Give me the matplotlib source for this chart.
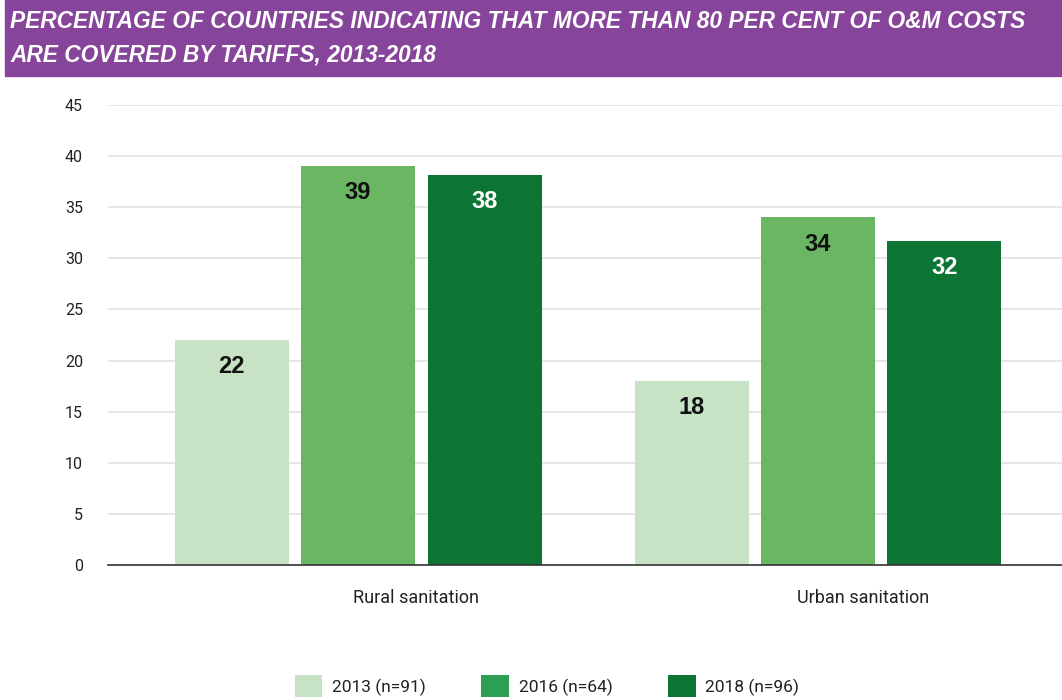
import matplotlib
matplotlib.use("Agg")
import matplotlib.pyplot as plt
from matplotlib.patches import Rectangle, Patch
import numpy as np

categories = ["Rural sanitation", "Urban sanitation"]
series_names = ["2013 (n=91)", "2016 (n=64)", "2018 (n=96)"]
values_2013 = [22, 18]
values_2016 = [39, 34]
values_2018 = [38.2, 31.7]
labels_2013 = ["22", "18"]
labels_2016 = ["39", "34"]
labels_2018 = ["38", "32"]
yticks = [0, 5, 10, 15, 20, 25, 30, 35, 40, 45]

bar_colors = ["#c8e2c5", "#6bb662", "#0c7533"]
legend_colors = ["#c8e2c5", "#2d9f55", "#0c7533"]
label_colors = ["#111111", "#111111", "#ffffff"]

plt.rcParams['font.family'] = ['Roboto', 'DejaVu Sans']

fig = plt.figure(figsize=(10.62, 7.0), dpi=100)

# title banner
fig.patches.append(Rectangle((5/1062, 1 - 76/700), 1 - 5/1062, 76/700,
                             transform=fig.transFigure, color="#86449a", zorder=0))
title_kw = dict(color="white", fontsize=16.4, fontweight="bold", fontstyle="italic",
                va="center", ha="left", family=["Liberation Sans", "DejaVu Sans"])
fig.text(10/1062, 1 - 22/700, "PERCENTAGE OF COUNTRIES INDICATING THAT MORE THAN 80 PER CENT OF O&M COSTS", **title_kw)
fig.text(10/1062, 1 - 55/700, "ARE COVERED BY TARIFFS, 2013-2018", **title_kw)

ax = fig.add_axes([108/1062, 1 - 565/700, 1 - 108/1062, 460/700])
x = np.arange(len(categories))
width = 114/460
offset = 126.5/460

all_vals = [values_2013, values_2016, values_2018]
all_labels = [labels_2013, labels_2016, labels_2018]
for i, (vals, labs) in enumerate(zip(all_vals, all_labels)):
    pos = x + (i - 1) * offset
    ax.bar(pos, vals, width=width, color=bar_colors[i], zorder=3)
    for p, v, l in zip(pos, vals, labs):
        ax.text(p, v - 2.6, l, ha="center", va="center", fontsize=17,
                fontweight="bold", color=label_colors[i], zorder=4,
                family=["Liberation Sans", "DejaVu Sans"])

ax.set_xlim(-250/460, 1 + 244/460)
ax.set_ylim(0, 45)
ax.set_yticks(yticks)
ax.set_yticklabels([str(t) for t in yticks], fontsize=11.5, color="#222222")
ax.yaxis.grid(True, color="#e2e2e2", linewidth=1.2, zorder=0)
ax.set_axisbelow(True)
ax.tick_params(axis="y", length=0, pad=18)
ax.tick_params(axis="x", length=0, pad=17)
label_shift = [58/460, 45/460]
ax.set_xticks(x + np.array(label_shift))
ax.set_xticklabels(categories, fontsize=13, color="#222222")
for s in ["top", "right", "left"]:
    ax.spines[s].set_visible(False)
ax.spines["bottom"].set_color("#333333")
ax.spines["bottom"].set_linewidth(1.2)
ax.spines["bottom"].set_zorder(5)

handles = [Patch(facecolor=c, edgecolor="none") for c in legend_colors]
fig.legend(handles, series_names, loc="lower left", bbox_to_anchor=(279/1062, -13/700),
           ncol=3, frameon=False, fontsize=12.5, handlelength=1.6, handleheight=1.6,
           columnspacing=3.2, handletextpad=0.55, labelcolor="#222222")

fig.savefig("out.png", dpi=100, facecolor="white")
